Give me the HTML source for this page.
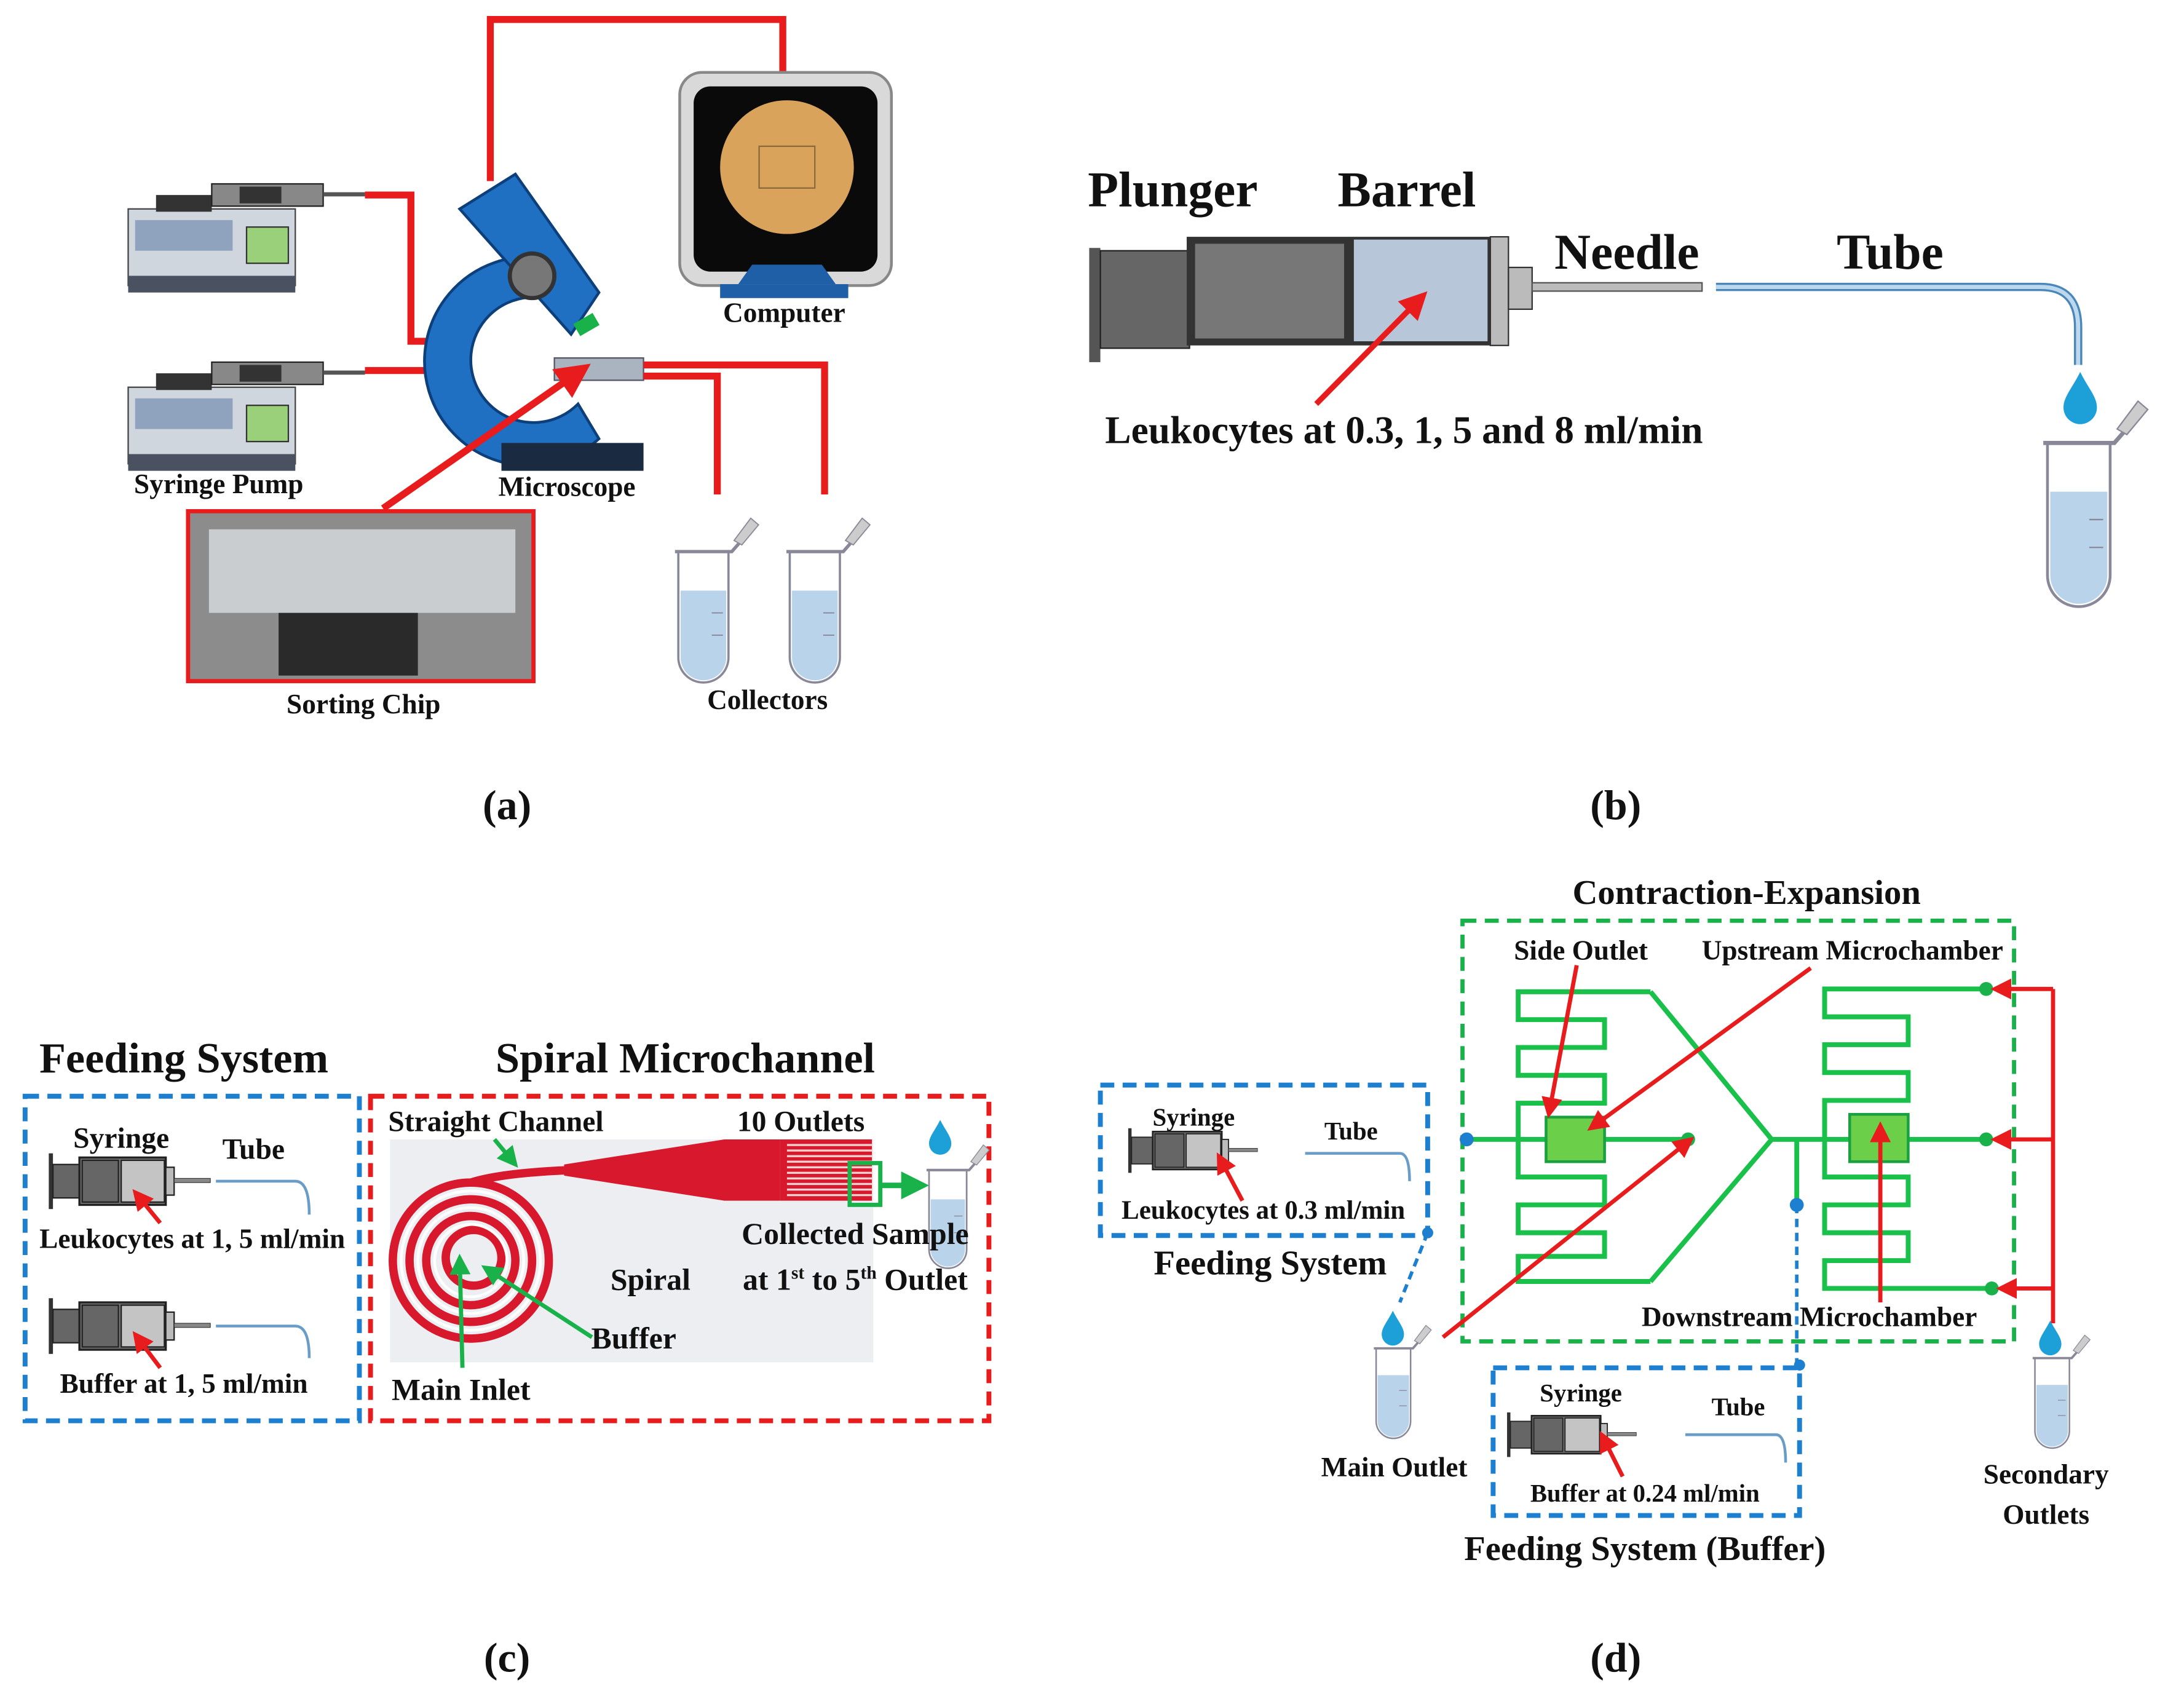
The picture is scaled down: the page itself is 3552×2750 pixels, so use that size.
<!DOCTYPE html>
<html><head><meta charset="utf-8"><style>
html,body{margin:0;padding:0;background:#fff}
svg{display:block}
text{font-family:"Liberation Serif",serif;font-weight:bold;fill:#111}
</style></head><body>
<svg width="3552" height="2750" viewBox="0 0 1568 1214" xmlns="http://www.w3.org/2000/svg">
<defs>
<marker id="ar" viewBox="0 0 10 10" refX="8" refY="5" markerWidth="5" markerHeight="5" orient="auto"><path d="M0,0L10,5L0,10z" fill="#e81c1c"/></marker>
<marker id="ag" viewBox="0 0 10 10" refX="8" refY="5" markerWidth="5" markerHeight="5" orient="auto"><path d="M0,0L10,5L0,10z" fill="#19b24a"/></marker>
<g id="syr">
<rect x="0" y="0" width="3" height="40" fill="#333"/>
<rect x="3" y="8" width="20" height="24" fill="#666" stroke="#222"/>
<rect x="22" y="3" width="62" height="34" fill="#777" stroke="#222" stroke-width="1.5"/>
<rect x="24" y="5" width="26" height="30" fill="#666" stroke="#222"/>
<rect x="52" y="5" width="31" height="30" fill="#c4c4c4" stroke="#222"/>
<rect x="84" y="10" width="6" height="20" fill="#bbb" stroke="#222"/>
<rect x="90" y="18" width="26" height="3" fill="#888" stroke="#333" stroke-width=".5"/>
</g>
<g id="tube">
<path d="M0,0 H45 V95 A22,22 0 0 1 0,95 Z" fill="#fff" stroke="#889" stroke-width="2"/>
<path d="M2,35 H43 V95 A20,20 0 0 1 2,95 Z" fill="#b9d3ea"/>
<path d="M30,55h10M30,75h10" stroke="#889"/>
<path d="M-3,0 H48 L55,-8" fill="none" stroke="#889" stroke-width="3"/>
<path d="M50,-10 L65,-30 L72,-24 L57,-6z" fill="#ccc" stroke="#889"/>
</g>
<g id="drop"><path d="M0,-14 C-4,-6 -8,-2 -8,3 A8,8 0 0 0 8,3 C8,-2 4,-6 0,-14z" fill="#1da0d8"/></g>
<g id="pump">
<rect x="0" y="20" width="120" height="55" fill="#cfd6de" stroke="#444"/>
<rect x="5" y="28" width="70" height="22" fill="#8fa3bf"/>
<rect x="85" y="33" width="30" height="26" fill="#9ad07a" stroke="#333"/>
<rect x="0" y="68" width="120" height="12" fill="#4a5160"/>
<rect x="20" y="10" width="40" height="12" fill="#333"/>
<rect x="60" y="2" width="80" height="16" fill="#888" stroke="#222"/>
<rect x="80" y="4" width="30" height="12" fill="#333"/>
<rect x="140" y="8" width="30" height="3" fill="#555"/>
</g>
</defs>

<!-- Panel (a) -->
<path d="M352,130 V14 H562 V52" fill="none" stroke="#e81c1c" stroke-width="5"/>
<rect x="488" y="52" width="152" height="153" rx="16" fill="#d9d9d9" stroke="#888" stroke-width="2"/>
<rect x="498" y="62" width="132" height="133" rx="12" fill="#0a0a0a"/>
<circle cx="565" cy="120" r="48" fill="#d9a35c"/>
<rect x="545" y="105" width="40" height="30" fill="none" stroke="#8a6a3a"/>
<path d="M530,204 L540,190 H590 L600,204z" fill="#1f5fa8"/>
<rect x="517" y="204" width="92" height="10" fill="#1f5fa8"/>
<text x="563" y="231" font-size="20" text-anchor="middle">Computer</text>
<use href="#pump" x="92" y="130"/>
<use href="#pump" x="92" y="258"/>
<path d="M262,140 H295 V245 H330" fill="none" stroke="#e81c1c" stroke-width="5"/>
<path d="M262,266 H325" fill="none" stroke="#e81c1c" stroke-width="5"/>
<text x="157" y="354" font-size="20" text-anchor="middle">Syringe Pump</text>
<path d="M390,185 A75,75 0 1 0 430,315 L415,290 A45,45 0 1 1 395,215z" fill="#1f6fc2" stroke="#0d3f7a" stroke-width="2"/>
<path d="M330,150 L370,125 L430,210 L410,240z" fill="#1f6fc2" stroke="#0d3f7a" stroke-width="2"/>
<circle cx="382" cy="198" r="16" fill="#777" stroke="#333" stroke-width="3"/>
<rect x="413" y="228" width="16" height="10" fill="#19b24a" transform="rotate(-30 421 233)"/>
<rect x="360" y="318" width="102" height="20" fill="#1a2a40"/>
<rect x="398" y="257" width="64" height="16" fill="#aab4c0" stroke="#556"/>
<text x="407" y="356" font-size="20" text-anchor="middle">Microscope</text>
<path d="M462,262 H592 V355 M462,270 H515 V355" fill="none" stroke="#e81c1c" stroke-width="5"/>
<g transform="translate(487,396) scale(0.8)"><use href="#tube"/></g>
<g transform="translate(567,396) scale(0.8)"><use href="#tube"/></g>
<text x="551" y="509" font-size="20" text-anchor="middle">Collectors</text>
<rect x="135" y="367" width="248" height="122" fill="#8c8c8c" stroke="#e81c1c" stroke-width="3"/>
<rect x="150" y="380" width="220" height="60" fill="#c9cdd0"/>
<rect x="200" y="440" width="100" height="45" fill="#2a2a2a"/>
<line x1="275" y1="365" x2="420" y2="264" stroke="#e81c1c" stroke-width="5" marker-end="url(#ar)"/>
<text x="261" y="512" font-size="20" text-anchor="middle">Sorting Chip</text>
<text x="364" y="588" font-size="30" font-weight="normal" text-anchor="middle">(<tspan font-weight="bold">a</tspan>)</text>

<!-- Panel (b) -->
<text x="842" y="148" font-size="36" text-anchor="middle">Plunger</text>
<text x="1010" y="148" font-size="36" text-anchor="middle">Barrel</text>
<text x="1168" y="193" font-size="36" text-anchor="middle">Needle</text>
<text x="1357" y="193" font-size="36" text-anchor="middle">Tube</text>
<rect x="782" y="178" width="8" height="82" fill="#555"/>
<rect x="790" y="180" width="64" height="70" fill="#666" stroke="#222"/>
<rect x="852" y="170" width="218" height="78" fill="#333"/>
<rect x="858" y="175" width="107" height="68" fill="#777"/>
<rect x="972" y="172" width="96" height="73" fill="#b7c6d8"/>
<rect x="1070" y="170" width="13" height="78" fill="#bbb" stroke="#333"/>
<rect x="1083" y="192" width="17" height="30" fill="#bbb" stroke="#333"/>
<rect x="1100" y="203" width="122" height="6" fill="#bbb" stroke="#555"/>
<path d="M1232,206 H1465 Q1492,206 1492,235 V262" fill="none" stroke="#4a86b8" stroke-width="6"/>
<path d="M1232,206 H1465 Q1492,206 1492,235 V262" fill="none" stroke="#bcd8ee" stroke-width="3"/>
<use href="#drop" x="1493" y="288" transform="translate(-746 -144) scale(1.5)"/>
<use href="#tube" x="1470" y="318"/>
<line x1="945" y1="290" x2="1022" y2="212" stroke="#e81c1c" stroke-width="4" marker-end="url(#ar)"/>
<text x="1008" y="318" font-size="28" text-anchor="middle">Leukocytes at 0.3, 1, 5 and 8 ml/min</text>
<text x="1160" y="588" font-size="30" font-weight="normal" text-anchor="middle">(<tspan font-weight="bold">b</tspan>)</text>

<!-- Panel (c) -->
<text x="132" y="770" font-size="31" text-anchor="middle">Feeding System</text>
<text x="492" y="770" font-size="31" text-anchor="middle">Spiral Microchannel</text>
<rect x="18" y="787" width="240" height="233" fill="none" stroke="#1d7fd0" stroke-width="3.5" stroke-dasharray="10,6"/>
<text x="87" y="824" font-size="21" text-anchor="middle">Syringe</text>
<text x="182" y="832" font-size="21" text-anchor="middle">Tube</text>
<use href="#syr" x="35" y="828"/>
<path d="M155,848 H212 Q222,848 222,872" fill="none" stroke="#6a9cc8" stroke-width="2"/>
<line x1="115" y1="878" x2="97" y2="856" stroke="#e81c1c" stroke-width="3" marker-end="url(#ar)"/>
<text x="138" y="896" font-size="20" text-anchor="middle">Leukocytes at 1, 5 ml/min</text>
<use href="#syr" x="35" y="932"/>
<path d="M155,952 H212 Q222,952 222,975" fill="none" stroke="#6a9cc8" stroke-width="2"/>
<line x1="115" y1="982" x2="97" y2="958" stroke="#e81c1c" stroke-width="3" marker-end="url(#ar)"/>
<text x="132" y="1000" font-size="20" text-anchor="middle">Buffer at 1, 5 ml/min</text>
<rect x="266" y="787" width="444" height="233" fill="none" stroke="#e81c1c" stroke-width="3.5" stroke-dasharray="10,6"/>
<rect x="280" y="818" width="347" height="160" fill="#eceef2"/>
<g fill="none" stroke="#d8182c" stroke-width="6">
<circle cx="338" cy="905" r="56"/><circle cx="338" cy="905" r="44"/><circle cx="338" cy="905" r="32"/><circle cx="340" cy="903" r="20"/>
<path d="M338,849 Q360,842 410,840"/>
</g>
<g fill="none" stroke="#fff" stroke-width="2"><circle cx="338" cy="905" r="50"/><circle cx="338" cy="905" r="38"/><circle cx="338" cy="905" r="26"/></g>
<path d="M405,836 L520,818 H560 V862 H520 L405,844z" fill="#d8182c"/>
<rect x="560" y="818" width="66" height="44" fill="#d8182c"/>
<g stroke="#f0d0d0" stroke-width="1.5"><path d="M565,822H626M565,826H626M565,830H626M565,834H626M565,838H626M565,842H626M565,846H626M565,850H626M565,854H626M565,858H626"/></g>
<rect x="610" y="835" width="22" height="30" fill="none" stroke="#19b24a" stroke-width="3"/>
<line x1="632" y1="851" x2="663" y2="851" stroke="#19b24a" stroke-width="4" marker-end="url(#ag)"/>
<g transform="translate(667,840) scale(0.6)"><use href="#tube" x="0" y="0"/></g>
<use href="#drop" x="675" y="818"/>
<text x="356" y="812" font-size="21" text-anchor="middle">Straight Channel</text>
<line x1="355" y1="818" x2="370" y2="836" stroke="#19b24a" stroke-width="3" marker-end="url(#ag)"/>
<text x="575" y="812" font-size="21" text-anchor="middle">10 Outlets</text>
<text x="614" y="893" font-size="22" text-anchor="middle">Collected Sample</text>
<text x="614" y="926" font-size="22" text-anchor="middle">at 1<tspan font-size="13" dy="-8">st</tspan><tspan dy="8"> to 5</tspan><tspan font-size="13" dy="-8">th</tspan><tspan dy="8"> Outlet</tspan></text>
<text x="467" y="926" font-size="22" text-anchor="middle">Spiral</text>
<text x="455" y="968" font-size="22" text-anchor="middle">Buffer</text>
<line x1="425" y1="960" x2="348" y2="910" stroke="#19b24a" stroke-width="3" marker-end="url(#ag)"/>
<line x1="332" y1="982" x2="330" y2="903" stroke="#19b24a" stroke-width="3" marker-end="url(#ag)"/>
<text x="331" y="1005" font-size="22" text-anchor="middle">Main Inlet</text>
<text x="364" y="1200" font-size="30" font-weight="normal" text-anchor="middle">(<tspan font-weight="bold">c</tspan>)</text>

<!-- Panel (d) -->
<text x="1254" y="649" font-size="25" text-anchor="middle">Contraction-Expansion</text>
<rect x="1050" y="661" width="396" height="302" fill="none" stroke="#19b24a" stroke-width="3" stroke-dasharray="10,6"/>
<g fill="none" stroke="#19c04a" stroke-width="3.5">
<path d="M1185,712 H1090 V732 H1152 V752 H1090 V772 H1152 V792 H1090 V818 M1090,818 V845 H1152 V865 H1090 V885 H1152 V902 H1090 V920 H1185"/>
<path d="M1185,712 L1272,818 L1185,920"/>
<path d="M1053,818 H1212 M1272,818 H1426 M1290,818 V865"/>
<path d="M1426,710 H1310 V730 H1370 V750 H1310 V770 H1370 V790 H1310 V818 M1310,818 V845 H1370 V865 H1310 V885 H1370 V905 H1310 V925 H1430"/>
</g>
<rect x="1110" y="802" width="42" height="32" fill="#6ccf4a" stroke="#19a040" stroke-width="2"/>
<rect x="1328" y="800" width="42" height="34" fill="#6ccf4a" stroke="#19a040" stroke-width="2"/>
<g fill="#19b24a"><circle cx="1212" cy="818" r="5"/><circle cx="1426" cy="710" r="5"/><circle cx="1426" cy="818" r="5"/><circle cx="1430" cy="925" r="5"/></g>
<g fill="#1d7fd0"><circle cx="1053" cy="818" r="5"/><circle cx="1290" cy="865" r="5"/><circle cx="1025" cy="885" r="4"/><circle cx="1292" cy="980" r="4"/></g>
<path d="M1474,710 V950" stroke="#e81c1c" stroke-width="3"/>
<line x1="1474" y1="710" x2="1432" y2="710" stroke="#e81c1c" stroke-width="3" marker-end="url(#ar)"/>
<line x1="1474" y1="818" x2="1432" y2="818" stroke="#e81c1c" stroke-width="3" marker-end="url(#ar)"/>
<line x1="1474" y1="925" x2="1436" y2="925" stroke="#e81c1c" stroke-width="3" marker-end="url(#ar)"/>
<text x="1135" y="689" font-size="20" text-anchor="middle">Side Outlet</text>
<line x1="1132" y1="693" x2="1112" y2="800" stroke="#e81c1c" stroke-width="3" marker-end="url(#ar)"/>
<text x="1330" y="689" font-size="20" text-anchor="middle">Upstream Microchamber</text>
<line x1="1300" y1="695" x2="1142" y2="810" stroke="#e81c1c" stroke-width="3" marker-end="url(#ar)"/>
<line x1="1350" y1="935" x2="1350" y2="808" stroke="#e81c1c" stroke-width="3" marker-end="url(#ar)"/>
<text x="1299" y="952" font-size="20" text-anchor="middle">Downstream Microchamber</text>
<line x1="1036" y1="960" x2="1214" y2="818" stroke="#e81c1c" stroke-width="3" marker-end="url(#ar)"/>
<rect x="790" y="779" width="235" height="108" fill="none" stroke="#1d7fd0" stroke-width="3.5" stroke-dasharray="10,6"/>
<text x="857" y="808" font-size="18" text-anchor="middle">Syringe</text>
<text x="970" y="818" font-size="18" text-anchor="middle">Tube</text>
<use href="#syr" x="810" y="810" transform="translate(810 810) scale(0.8) translate(-810 -810)"/>
<path d="M937,828 H1005 Q1012,828 1012,848" fill="none" stroke="#6a9cc8" stroke-width="2"/>
<line x1="892" y1="862" x2="875" y2="830" stroke="#e81c1c" stroke-width="3" marker-end="url(#ar)"/>
<text x="907" y="875" font-size="19" text-anchor="middle">Leukocytes at 0.3 ml/min</text>
<text x="912" y="915" font-size="25" text-anchor="middle">Feeding System</text>
<path d="M1025,885 L1005,935" stroke="#1d7fd0" stroke-width="2.5" stroke-dasharray="6,4"/>
<path d="M1290,865 V982" stroke="#1d7fd0" stroke-width="2.5" stroke-dasharray="6,4"/>
<rect x="1072" y="982" width="220" height="106" fill="none" stroke="#1d7fd0" stroke-width="3.5" stroke-dasharray="10,6"/>
<text x="1135" y="1006" font-size="18" text-anchor="middle">Syringe</text>
<text x="1248" y="1016" font-size="18" text-anchor="middle">Tube</text>
<use href="#syr" x="1082" y="1014" transform="translate(1082 1014) scale(0.8) translate(-1082 -1014)"/>
<path d="M1210,1030 H1275 Q1282,1030 1282,1050" fill="none" stroke="#6a9cc8" stroke-width="2"/>
<line x1="1165" y1="1060" x2="1150" y2="1030" stroke="#e81c1c" stroke-width="3" marker-end="url(#ar)"/>
<text x="1181" y="1078" font-size="18" text-anchor="middle">Buffer at 0.24 ml/min</text>
<text x="1181" y="1120" font-size="25" text-anchor="middle">Feeding System (Buffer)</text>
<use href="#drop" x="1000" y="955"/>
<g transform="translate(988,968) scale(0.55)"><use href="#tube" x="0" y="0"/></g>
<text x="1001" y="1060" font-size="20" text-anchor="middle">Main Outlet</text>
<use href="#drop" x="1472" y="962"/>
<g transform="translate(1461,975) scale(0.55)"><use href="#tube" x="0" y="0"/></g>
<text x="1469" y="1065" font-size="20" text-anchor="middle">Secondary</text>
<text x="1469" y="1094" font-size="20" text-anchor="middle">Outlets</text>
<text x="1160" y="1200" font-size="30" font-weight="normal" text-anchor="middle">(<tspan font-weight="bold">d</tspan>)</text>
</svg>
</body></html>
